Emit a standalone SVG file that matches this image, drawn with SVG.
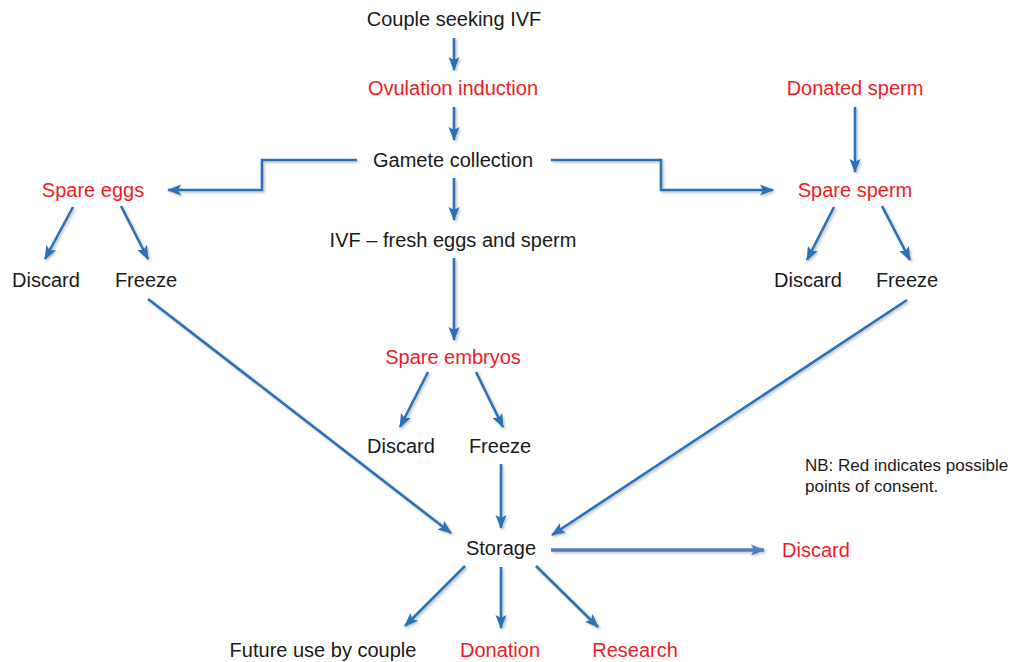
<svg xmlns="http://www.w3.org/2000/svg" width="1025" height="662" viewBox="0 0 1025 662">
<style>
text{font-family:"Liberation Sans",Arial,sans-serif;font-size:20px;text-anchor:middle;fill:#1a1a1a}
.r{fill:#ee1c24}
.nb{font-size:17px;text-anchor:start}
.c{fill:none;stroke:#2a72b8;stroke-width:2.6;marker-end:url(#ah);filter:url(#sh)}
.g{fill:none;stroke:#4f7fb8;stroke-width:3.5;marker-end:url(#ah2);filter:url(#sh)}
</style>
<defs>
<marker id="ah" markerUnits="userSpaceOnUse" markerWidth="14" markerHeight="14" viewBox="0 0 14 14" refX="13" refY="7" orient="auto"><path d="M0,1.5 L14,7 L0,12.5 L3,7 Z" fill="#2a72b8"/></marker>
<marker id="ah2" markerUnits="userSpaceOnUse" markerWidth="14" markerHeight="14" viewBox="0 0 14 14" refX="13" refY="7" orient="auto"><path d="M0,1.5 L14,7 L0,12.5 L3,7 Z" fill="#4f7fb8"/></marker>
<filter id="sh" filterUnits="userSpaceOnUse" x="0" y="0" width="1025" height="662"><feDropShadow dx="1.5" dy="1.5" stdDeviation="1.2" flood-color="#000" flood-opacity="0.25"/></filter>
</defs>
<rect width="1025" height="662" fill="#fff"/>
<g id="connectors">
<path class="c" d="M454,38 V70"/>
<path class="c" d="M454,107 V140"/>
<path class="c" d="M357,160 H262 V190 H168"/>
<path class="c" d="M551,160 H661 V190 H773"/>
<path class="c" d="M855,107 V172"/>
<path class="c" d="M73,207 L45,259"/>
<path class="c" d="M121,206 L148,259"/>
<path class="c" d="M834,207 L807,260"/>
<path class="c" d="M882,206 L910,260"/>
<path class="c" d="M454,178 V220"/>
<path class="c" d="M454,258 V340"/>
<path class="c" d="M428,372 L400,427"/>
<path class="c" d="M476,372 L503,427"/>
<path class="c" d="M501,464 V528"/>
<path class="c" d="M148,299 L451,533"/>
<path class="c" d="M907,300 L552,535"/>
<path class="g" d="M551,550 H764"/>
<path class="c" d="M465,566 L405,626"/>
<path class="c" d="M501,567 V628"/>
<path class="c" d="M536,566 L598,627"/>
</g>
<g id="couple"><text x="454" y="26">Couple seeking IVF</text></g>
<g id="ovulation"><text class="r" x="453" y="95">Ovulation induction</text></g>
<g id="donated"><text class="r" x="855" y="95">Donated sperm</text></g>
<g id="gamete"><text x="453" y="167">Gamete collection</text></g>
<g id="spare-eggs"><text class="r" x="93" y="197">Spare eggs</text></g>
<g id="spare-sperm"><text class="r" x="855" y="197">Spare sperm</text></g>
<g id="eggs-discard"><text x="46" y="287">Discard</text></g>
<g id="eggs-freeze"><text x="146" y="287">Freeze</text></g>
<g id="sperm-discard"><text x="808" y="287">Discard</text></g>
<g id="sperm-freeze"><text x="907" y="287">Freeze</text></g>
<g id="ivf"><text x="453" y="247">IVF – fresh eggs and sperm</text></g>
<g id="spare-embryos"><text class="r" x="453" y="364">Spare embryos</text></g>
<g id="emb-discard"><text x="401" y="453">Discard</text></g>
<g id="emb-freeze"><text x="500" y="453">Freeze</text></g>
<g id="storage"><text x="501" y="555">Storage</text></g>
<g id="storage-discard"><text class="r" x="816" y="557">Discard</text></g>
<g id="future"><text x="323" y="657">Future use by couple</text></g>
<g id="donation"><text class="r" x="500" y="657">Donation</text></g>
<g id="research"><text class="r" x="635" y="657">Research</text></g>
<g id="note"><text class="nb" x="805" y="471">NB: Red indicates possible</text><text class="nb" x="805" y="492">points of consent.</text></g>
</svg>
